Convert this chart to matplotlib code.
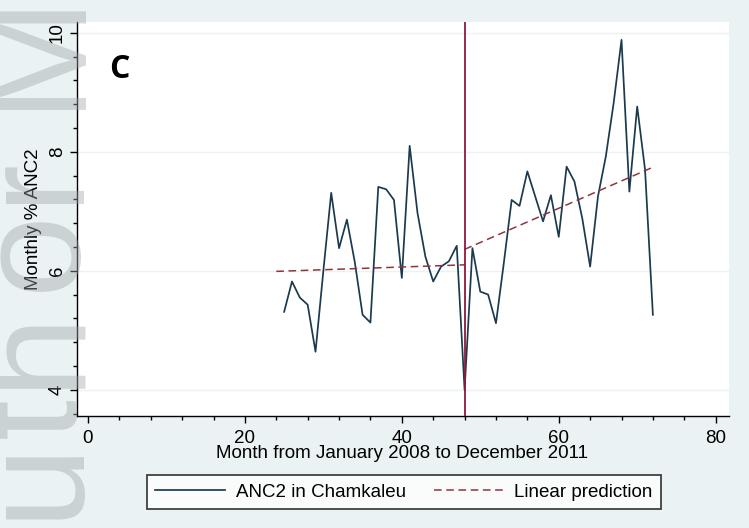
import matplotlib
matplotlib.use("Agg")
import matplotlib.pyplot as plt
import numpy as np
from matplotlib.ticker import MultipleLocator
from matplotlib.lines import Line2D

months = list(range(25, 73))
anc2 = [5.31, 5.82, 5.55, 5.43, 4.64, 6.00, 7.31, 6.38, 6.86, 6.15,
        5.26, 5.13, 7.41, 7.37, 7.19, 5.88, 8.10, 6.97, 6.24, 5.82,
        6.07, 6.16, 6.42, 4.00, 6.38, 5.65, 5.60, 5.12, 6.13, 7.19,
        7.09, 7.67, 7.25, 6.83, 7.27, 6.57, 7.75, 7.50, 6.88, 6.07,
        7.25, 7.92, 8.82, 9.88, 7.33, 8.76, 7.70, 5.26]
pred_pre_x = [24, 48]
pred_pre_y = [5.99, 6.10]
pred_post_x = [48, 72]
pred_post_y = [6.36, 7.74]
intervention = 48

xticks = [0, 20, 40, 60, 80]
yticks = [4, 6, 8, 10]

watermark_letters = ["u", "t", "h", "o", "r", "M"]

BG = "#eaf2f3"
FS = 13.5
plt.rcParams['font.family'] = ['Liberation Sans', 'DejaVu Sans']

fig = plt.figure(figsize=(7.49, 5.28), dpi=100, facecolor=BG)
ax = fig.add_axes([77/749, 1-416/528, (729-77)/749, (416-22)/528])
ax.set_facecolor("white")

ax.set_xlim(-1.4, 81.7)
ax.set_ylim(3.56, 10.18)

for yv in yticks:
    ax.axhline(yv, color=BG, lw=1.0, zorder=0)

ax.plot(months, anc2, color="#1b3a4e", lw=1.25, zorder=3)
ax.plot(pred_pre_x, pred_pre_y, color="#90353b", lw=1.1, ls=(0, (5, 3)), zorder=4)
ax.plot(pred_post_x, pred_post_y, color="#90353b", lw=1.1, ls=(0, (5, 3)), zorder=4)
ax.axvline(intervention, color="#8c1a3c", lw=1.3, zorder=5)

for s in ["top", "right"]:
    ax.spines[s].set_visible(False)
for s in ["left", "bottom"]:
    ax.spines[s].set_color("black")
    ax.spines[s].set_linewidth(1.0)

ax.set_xticks(xticks)
ax.set_yticks(yticks)
ax.xaxis.set_minor_locator(MultipleLocator(4))
ax.yaxis.set_minor_locator(MultipleLocator(0.4))
ax.tick_params(axis='both', which='major', length=5, width=1.0, labelsize=FS, pad=5)
ax.tick_params(axis='both', which='minor', length=3, width=1.0)
ax.tick_params(axis='y', which='major', pad=3)
for lab in ax.get_yticklabels():
    lab.set_rotation(90)
    lab.set_va('center')

ax.text(4.0, 9.38, "C", fontsize=23, fontweight='bold', family=['Open Sans', 'DejaVu Sans'],
        ha='center', va='center', color='black')

fig.text(402/749, 1-453/528, "Month from January 2008 to December 2011",
         ha='center', va='center', fontsize=FS)
fig.text(34/749, 1-219/528, "Monthly % ANC2", rotation=90,
         ha='center', va='center', fontsize=FS)

handles = [Line2D([], [], color="#1b3a4e", lw=1.25),
           Line2D([], [], color="#90353b", lw=1.1, ls=(0, (5, 3)))]
leg = fig.legend(handles, ["ANC2 in Chamkaleu", "Linear prediction"],
                 loc='center', bbox_to_anchor=(404/749, 1-492/528), ncol=2,
                 frameon=True, fancybox=False, edgecolor='black', fontsize=FS,
                 handlelength=3.7, handletextpad=0.6, columnspacing=1.5,
                 borderpad=0.45, borderaxespad=0)
leg.get_frame().set_linewidth(1.2)

# faint "Author Manuscript" watermark (only part of it shows in the picture)
wm_centres_px = [478, 417, 347, 250, 178, 48]
for ch, yc in zip(watermark_letters, wm_centres_px):
    fig.text(75/749, 1-yc/528, ch, rotation=90, rotation_mode='anchor',
             ha='center', va='baseline', fontsize=106, color='#a0a5a7',
             alpha=0.42, zorder=10)

fig.savefig("out.png", dpi=100, facecolor=BG)
